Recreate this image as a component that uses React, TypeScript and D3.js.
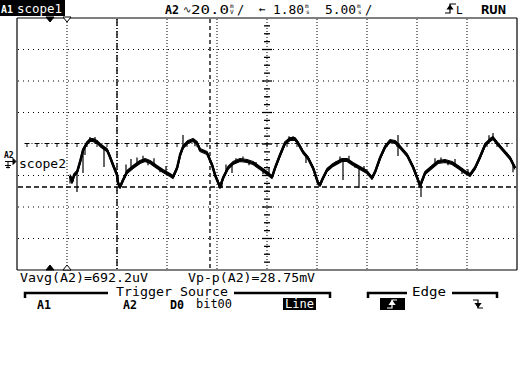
import React from 'react';
import * as d3 from 'd3';

const W = 522;
const H = 384;

// scope settings
const msPerDiv = 5;
const timeDivs = 10;
const delayMs = 1.8;
const mvPerDiv = 20;
const voltDivs = 8;

// trace samples: time (ms) and voltage (mV)
const traceMs = [
  -17.9, -17.7, -17.5, -17.2, -16.9, -16.6, -16.2, -15.9, -15.6, -15.2, -14.9, -14.5, -14.2, -13.9,
  -13.6, -13.2, -13.1, -12.9, -12.6, -12.2, -11.6, -10.9, -10.4, -9.9, -9.2, -8.6, -7.9, -7.6, -7.2,
  -6.9, -6.6, -6.1, -5.6, -5.2, -4.9, -4.2, -3.7, -3.4, -2.9, -2.6, -2.1, -1.6, -0.9, -0.2, 0.4, 1.1,
  1.8, 2.3, 2.6, 3.1, 3.6, 4.1, 4.6, 4.9, 5.4, 5.9, 6.4, 6.9, 7.1, 7.3, 7.8, 8.4, 9.3, 9.8, 10.4, 11.1,
  11.8, 12.3, 12.6, 13.1, 13.6, 14.1, 14.6, 15.1, 15.8, 16.4, 16.9, 17.1, 17.6, 18.3, 18.9, 19.6, 20.3,
  20.9, 21.6, 22.1, 22.6, 23.1, 23.6, 24.1, 24.4, 24.8, 25.4, 26.1, 26.6,
];
const traceMv = [
  -20.3, -24.1, -19.7, -17.8, -11.4, -3.8, 0.6, 2.5, 2.5, 1.3, -0.6, -2.5, -3.8, -8.3,
  -13.3, -19.7, -24.8, -27.3, -22.9, -17.8, -14.6, -11.4, -10.2, -11.4, -14.6, -17.1, -19.7, -21.0, -15.2,
  -7.0, -1.9, 1.3, 2.5, 0.6, -3.8, -5.7, -13.3, -19.7, -27.3, -21.6, -15.2, -12.1, -10.2, -10.8, -12.1, -15.2,
  -18.4, -21.0, -15.2, -7.0, 0.6, 3.2, 3.2, 0.6, -5.1, -8.9, -15.2, -24.8, -26.0, -22.9, -16.5, -13.3, -10.2, -10.2, -12.7, -15.2,
  -17.8, -21.6, -17.8, -8.9, -1.9, 1.9, 1.3, -1.9, -7.0, -14.6, -22.9, -26.7, -18.4, -14.6, -11.4, -10.8, -12.1,
  -14.6, -17.8, -19.7, -15.2, -8.3, -0.6, 2.5, 3.8, 0.6, -3.8, -8.9, -15.2,
];

// glitch spikes: time (ms) and tip voltage (mV)
const spikeMs = [
  -17.9, -17.2, -16.6, -16.4, -15.9, -15.4, -14.5, -12.3, -11.8, -11.2, -10.6, -10.1, -9.5, -8.9, -8.3,
  -6.6, -5.4, -2.7, -2.3, -1.7, -1.3, -0.6, 0.0, 0.7, 1.4, 2.0, 4.0, 4.4, 5.2, 5.7, 8.7, 9.1, 9.4, 10.0,
  10.6, 11.0, 11.5, 14.9, 14.9, 17.2, 18.6, 19.2, 19.9, 20.6, 21.3, 21.9, 24.0, 24.4, 25.8, 26.4,
];
const spikeMv = [
  -25.0, -30.5, -18.4, -7.0, 4.5, 4.5, -14.6, -13.0, -9.5, -8.5, -7.5, -13.5, -9.0, -18.0, -14.0,
  5.7, -1.5, -27.9, -13.0, -18.4, -9.0, -8.0, -13.5, -11.5, -19.0, -15.0, 5.0, 5.1, -2.0, -12.0, -11.0, -8.0, -22.9, -7.5,
  -15.0, -27.9, -14.0, 5.7, -7.6, -33.7, -9.0, -8.5, -13.5, -9.5, -19.0, -16.0, 5.5, 7.0, -5.5, -18.0,
];

// markers
const cursorDashDotMs = -13.2;
const cursorDashedMs = -3.9;
const triggerLevelMv = -27.3;
const groundMv = -13.0;
const filledMarkerMs = -19.9;
const openMarkerMs = -18.2;

// texts
const headerChannel = 'A1';
const headerLabel = 'scope1';
const headerA2 = 'A2';
const headerScale = '20.0';
const headerDelay = '1.80';
const headerTime = '5.00';
const headerRun = 'RUN';
const measAvg = 'Vavg(A2)=692.2uV';
const measPp = 'Vp-p(A2)=28.75mV';
const menuTrigger = 'Trigger Source';
const menuEdge = 'Edge';
const softkeys = ['A1', 'A2'];

const FONT = "'DejaVu Sans Mono', monospace";

export default function App() {
  const t0 = delayMs - (msPerDiv * timeDivs) / 2;
  const t1 = delayMs + (msPerDiv * timeDivs) / 2;
  const x = d3.scaleLinear().domain([t0, t1]).range([17, 517]);
  const vHalf = (mvPerDiv * voltDivs) / 2;
  const y = d3.scaleLinear().domain([-vHalf, vHalf]).range([270, 18]);

  const pts = traceMs.map((t, i) => ({ t, v: traceMv[i] }));
  const line = d3
    .line<{ t: number; v: number }>()
    .x((d) => x(d.t))
    .y((d) => y(d.v));
  const path = line(pts) || '';

  const interp = (t: number) => {
    const i = d3.bisector((d: { t: number }) => d.t).left(pts, t);
    if (i <= 0) return pts[0].v;
    if (i >= pts.length) return pts[pts.length - 1].v;
    const a = pts[i - 1];
    const b = pts[i];
    return a.v + ((b.v - a.v) * (t - a.t)) / (b.t - a.t);
  };

  const vGrid = d3.range(1, timeDivs).map((i) => t0 + i * msPerDiv);
  const hGrid = d3.range(1, voltDivs).map((i) => -vHalf + i * mvPerDiv);
  const centerT = delayMs;
  const minorT = d3.range(t0 + 1, t1, 1);
  const minorV = d3.range(-vHalf + 5, vHalf, 5);

  const cx = x(centerT);
  const cy = y(0);
  const gy = y(groundMv);

  return (
    <svg
      width={W}
      height={H}
      style={{ position: 'absolute', left: 0, top: 0, background: '#fff' }}
      fontFamily={FONT}
    >
      <rect x={0} y={0} width={W} height={H} fill="#fff" />
      {/* frame */}
      <g stroke="#000" strokeWidth={1.2} fill="none">
        <line x1={17} y1={18} x2={517} y2={18} />
        <line x1={17} y1={18} x2={17} y2={270} />
        <line x1={517} y1={18} x2={517} y2={270} />
        <line x1={17} y1={270} x2={517} y2={270} />
      </g>
      {/* dotted grid */}
      <g stroke="#000" strokeWidth={1} fill="none">
        {vGrid
          .filter((t) => Math.abs(t - centerT) > 0.01)
          .map((t, i) => (
            <line key={'vg' + i} x1={x(t)} y1={19} x2={x(t)} y2={269} strokeDasharray="1 2" />
          ))}
        {hGrid
          .filter((v) => Math.abs(v) > 0.01)
          .map((v, i) => (
            <line key={'hg' + i} x1={18} y1={y(v)} x2={516} y2={y(v)} strokeDasharray="1 4" />
          ))}
      </g>
      {/* center horizontal axis with ticks */}
      <g stroke="#000" strokeWidth={1}>
        {minorT.map((t, i) => (
          <g key={'ht' + i}>
            <line x1={x(t) - 2.5} y1={cy - 0.5} x2={x(t) + 2.5} y2={cy - 0.5} />
            <line x1={x(t)} y1={cy - 0.5} x2={x(t)} y2={cy + 3} />
            <line x1={x(t) + 4.5} y1={cy - 0.5} x2={x(t) + 5.5} y2={cy - 0.5} />
          </g>
        ))}
      </g>
      {/* center vertical axis with ticks */}
      <g stroke="#000" strokeWidth={1}>
        <line x1={cx} y1={19} x2={cx} y2={269} strokeDasharray="1 2" />
        {minorV.map((v, i) => {
          const major = Math.abs(v % mvPerDiv) < 0.01;
          const hw = major ? 5 : 3;
          return <line key={'vt' + i} x1={cx - hw} y1={y(v)} x2={cx + hw} y2={y(v)} strokeWidth={1.3} />;
        })}
      </g>
      {/* cursors */}
      <g stroke="#000" strokeWidth={1.3} fill="none">
        <line x1={x(cursorDashDotMs)} y1={19} x2={x(cursorDashDotMs)} y2={269} strokeDasharray="7 2 1 2" />
        <line x1={x(cursorDashedMs)} y1={19} x2={x(cursorDashedMs)} y2={269} strokeDasharray="4 3" />
        <line x1={18} y1={y(triggerLevelMv)} x2={516} y2={y(triggerLevelMv)} strokeDasharray="5 3" />
      </g>
      {/* time markers */}
      <g fill="#000" stroke="#000" strokeWidth={1}>
        <path d={`M${x(filledMarkerMs) - 4},17 L${x(filledMarkerMs) + 4},17 L${x(filledMarkerMs)},22 Z`} />
        <path
          d={`M${x(openMarkerMs) - 4},17 L${x(openMarkerMs) + 4},17 L${x(openMarkerMs)},22 Z`}
          fill="#fff"
        />
        <path d={`M${x(filledMarkerMs) - 4},270 L${x(filledMarkerMs) + 4},270 L${x(filledMarkerMs)},265 Z`} />
        <path
          d={`M${x(openMarkerMs) - 4},270 L${x(openMarkerMs) + 4},270 L${x(openMarkerMs)},265 Z`}
          fill="#fff"
        />
      </g>
      {/* trace */}
      <g fill="none" stroke="#000" strokeLinejoin="round">
        <path d={path} strokeWidth={2.4} />
        <path d={path} strokeWidth={1.1} transform="translate(0,-1.5)" />
        <path d={path} strokeWidth={1.1} transform="translate(0,1.5)" />
        <path d={path} strokeWidth={1} transform="translate(0.8,0)" />
        {spikeMs.map((t, i) => (
          <line key={'sp' + i} x1={x(t)} x2={x(t)} y1={y(interp(t))} y2={y(spikeMv[i])} strokeWidth={1.2} />
        ))}
      </g>
      {/* channel 2 ground marker */}
      <g>
        <text x={4} y={158} fontSize={8} fontWeight="bold">A2</text>
        <g stroke="#000" strokeWidth={1} fill="#000">
          <line x1={5} y1={gy - 3} x2={13} y2={gy - 3} />
          <path d={`M13,${gy - 6} L16,${gy - 3} L13,${gy} Z`} />
          <line x1={8} y1={gy - 3} x2={8} y2={gy + 4} />
          <line x1={5} y1={gy + 1} x2={11} y2={gy + 1} />
          <line x1={6} y1={gy + 3} x2={10} y2={gy + 3} />
        </g>
        <text x={19} y={gy + 4} fontSize={12} textLength={47} lengthAdjust="spacingAndGlyphs">
          scope2
        </text>
      </g>
      {/* header */}
      <rect x={0} y={0} width={65} height={16} fill="#000" />
      <text x={1} y={13} fontSize={11} fontWeight="bold" fill="#fff" textLength={12} lengthAdjust="spacingAndGlyphs">
        {headerChannel}
      </text>
      <text x={17} y={13} fontSize={12} fill="#fff" textLength={45} lengthAdjust="spacingAndGlyphs">
        {headerLabel}
      </text>
      <text x={165} y={14} fontSize={12} fontWeight="bold" textLength={14} lengthAdjust="spacingAndGlyphs">
        {headerA2}
      </text>
      <text x={183} y={13} fontSize={10}>∿</text>
      <text x={191} y={14} fontSize={12} textLength={38} lengthAdjust="spacingAndGlyphs">
        {headerScale}
      </text>
      <text x={230} y={8} fontSize={6}>m</text>
      <text x={230} y={14} fontSize={6}>V</text>
      <text x={237} y={14} fontSize={12}>/</text>
      <text x={259} y={13} fontSize={11}>←</text>
      <text x={273} y={14} fontSize={12} textLength={31} lengthAdjust="spacingAndGlyphs">
        {headerDelay}
      </text>
      <text x={305} y={8} fontSize={6}>m</text>
      <text x={306} y={14} fontSize={6}>s</text>
      <text x={325} y={14} fontSize={12} textLength={31} lengthAdjust="spacingAndGlyphs">
        {headerTime}
      </text>
      <text x={357} y={8} fontSize={6}>m</text>
      <text x={358} y={14} fontSize={6}>s</text>
      <text x={365} y={14} fontSize={12}>/</text>
      <g stroke="#000" strokeWidth={1.2} fill="#000">
        <path d="M445,13 H450 V4 H456" fill="none" />
        <path d="M447.5,9 L450,5.5 L452.5,9 Z" />
      </g>
      <text x={456} y={14} fontSize={11}>L</text>
      <text x={481} y={14} fontSize={12} fontWeight="bold" textLength={25} lengthAdjust="spacingAndGlyphs">
        {headerRun}
      </text>
      {/* measurements */}
      <text x={20} y={282} fontSize={12} textLength={128} lengthAdjust="spacingAndGlyphs">
        {measAvg}
      </text>
      <text x={188} y={282} fontSize={12} textLength={127} lengthAdjust="spacingAndGlyphs">
        {measPp}
      </text>
      {/* softkey menu */}
      <g stroke="#000" strokeWidth={2.5} fill="none">
        <path d="M25,298 V293 H108" />
        <path d="M234,293 H330 V298" />
        <path d="M368,298 V293 H407" />
        <path d="M452,293 H497 V298" />
      </g>
      <text x={116} y={296} fontSize={12} textLength={112} lengthAdjust="spacingAndGlyphs">
        {menuTrigger}
      </text>
      <text x={412} y={296} fontSize={12} textLength={34} lengthAdjust="spacingAndGlyphs">
        {menuEdge}
      </text>
      <text x={37} y={309} fontSize={12} fontWeight="bold" textLength={14} lengthAdjust="spacingAndGlyphs">
        {softkeys[0]}
      </text>
      <text x={123} y={309} fontSize={12} fontWeight="bold" textLength={14} lengthAdjust="spacingAndGlyphs">
        {softkeys[1]}
      </text>
      <text x={170} y={309} fontSize={12} fontWeight="bold" textLength={14} lengthAdjust="spacingAndGlyphs">
        D0
      </text>
      <text x={196} y={308} fontSize={12} textLength={36} lengthAdjust="spacingAndGlyphs">
        bit00
      </text>
      <rect x={283} y={298} width={33} height={12} fill="#000" />
      <text x={285} y={308} fontSize={12} fill="#fff" textLength={29} lengthAdjust="spacingAndGlyphs">
        Line
      </text>
      <rect x={380} y={298} width={25} height={12} fill="#000" />
      <g stroke="#fff" strokeWidth={1.2} fill="#fff">
        <path d="M387,308 H392 V300 H397" fill="none" />
        <path d="M389.5,304.5 L392,301 L394.5,304.5 Z" />
      </g>
      <g stroke="#000" strokeWidth={1.2} fill="#000">
        <path d="M473,300 H478 V308 H483" fill="none" />
        <path d="M475.5,303.5 L478,307 L480.5,303.5 Z" />
      </g>
    </svg>
  );
}
